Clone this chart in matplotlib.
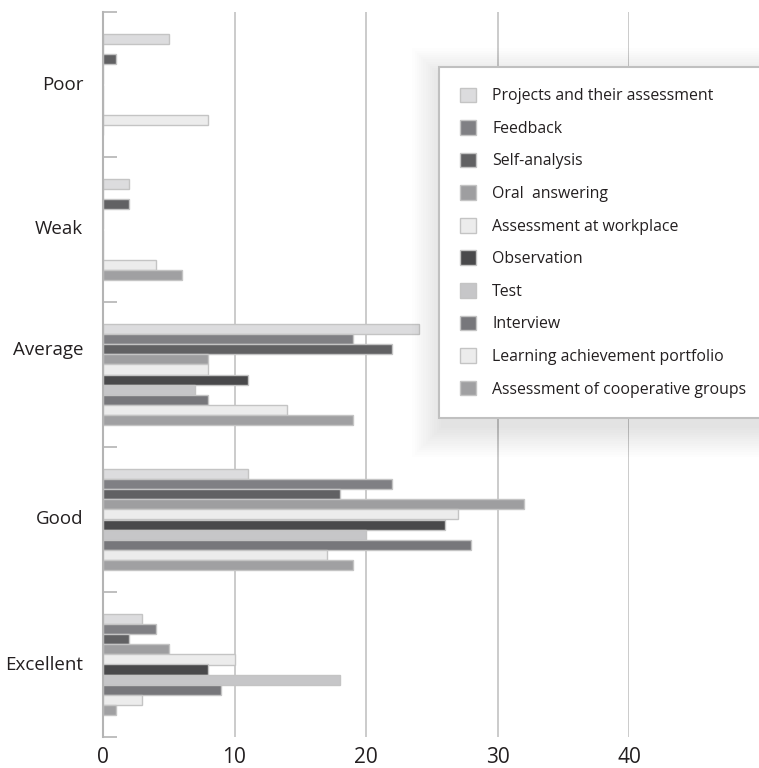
import numpy as np
import matplotlib.pyplot as plt
from matplotlib.patches import Patch, Rectangle

plt.rcParams['font.family'] = ['Open Sans', 'DejaVu Sans']

ratings = ['Poor', 'Weak', 'Average', 'Good', 'Excellent']

methods = ['Projects and their assessment', 'Feedback', 'Self-analysis',
           'Oral  answering', 'Assessment at workplace', 'Observation', 'Test',
           'Interview', 'Learning achievement portfolio',
           'Assessment of cooperative groups']

# counts per rating (Poor .. Excellent) for each assessment method
projects = [5, 2, 24, 11, 3]
feedback = [0, 0, 19, 22, 4]
self_analysis = [1, 2, 22, 18, 2]
oral = [0, 0, 8, 32, 5]
workplace = [0, 0, 8, 27, 10]
observation = [0, 0, 11, 26, 8]
test = [0, 0, 7, 20, 18]
interview = [0, 0, 8, 28, 9]
portfolio = [8, 4, 14, 17, 3]
cooperative = [0, 6, 19, 19, 1]

series = [projects, feedback, self_analysis, oral, workplace,
          observation, test, interview, portfolio, cooperative]

colors = ['#dcdcde', '#808084', '#616163', '#9e9ea0', '#ececec',
          '#49494b', '#c6c6c8', '#77777b', '#ececec', '#a0a0a2']
edge = '#c4c4c4'
ink = '#231f20'

W, H = 759, 768
fig = plt.figure(figsize=(W / 100, H / 100), dpi=100)
ax = fig.add_axes([103 / W, (H - 737) / H, (629 - 103) / W, (737 - 12) / H])

slot = 10.1 / 145
ypos = np.arange(len(ratings))
for i, (vals, c) in enumerate(zip(series, colors)):
    ax.barh(ypos + (i - 4.5) * slot, vals, height=slot, color=c,
            edgecolor=edge, linewidth=1, zorder=3)

ax.set_xlim(0, 40)
ax.set_ylim(4.5, -0.5)
ax.set_xticks([0, 10, 20, 30, 40])
ax.grid(axis='x', color='#c2c2c2', linewidth=1.2, zorder=0)
ax.tick_params(axis='x', length=0, labelsize=15, pad=7, labelcolor=ink)

for side in ['top', 'right', 'bottom']:
    ax.spines[side].set_visible(False)
ax.spines['left'].set_color('#b4b4b4')
ax.spines['left'].set_linewidth(1.5)
ax.spines['left'].set_zorder(4)

# group separators as short inward ticks
ax.set_yticks(np.arange(-0.5, len(ratings), 1), minor=True)
ax.tick_params(axis='y', which='minor', direction='in', length=10,
               color='#b4b4b4', width=1.2)
ax.set_yticks(ypos)
ax.set_yticklabels([])
ax.tick_params(axis='y', which='major', length=0)
label_shift = [0, 0, -0.17, 0, 0]
for y, name, dy in zip(ypos, ratings, label_shift):
    ax.text(-1.5, y + dy, name, ha='right', va='center', fontsize=13.5,
            color=ink)

handles = [Patch(facecolor=c, edgecolor=edge, linewidth=1) for c in colors]
leg = fig.legend(handles, methods, loc='upper left',
                 bbox_to_anchor=(439 / W, 1 - 67 / H), borderaxespad=0,
                 fontsize=11.4, frameon=True, fancybox=False, framealpha=1,
                 handlelength=1.05, handleheight=1.05, handletextpad=1.0,
                 labelspacing=1.0, borderpad=1.3)
leg.get_frame().set_facecolor('white')
leg.get_frame().set_edgecolor('#c0c0c0')
leg.get_frame().set_linewidth(1.5)
for t in leg.get_texts():
    t.set_color(ink)

# soft drop shadow under the legend box
fig.canvas.draw()
bb = leg.get_window_extent()
for k in range(14):
    grow = 2.2 * k
    fig.patches.append(Rectangle(
        ((bb.x0 - grow + 2) / W, (bb.y0 - grow - 10) / H),
        (bb.width + 2 * grow) / W, (bb.height + 2 * grow) / H,
        transform=fig.transFigure, facecolor='#000000', alpha=0.007,
        edgecolor='none', zorder=1))

fig.savefig('out.png', dpi=100)
